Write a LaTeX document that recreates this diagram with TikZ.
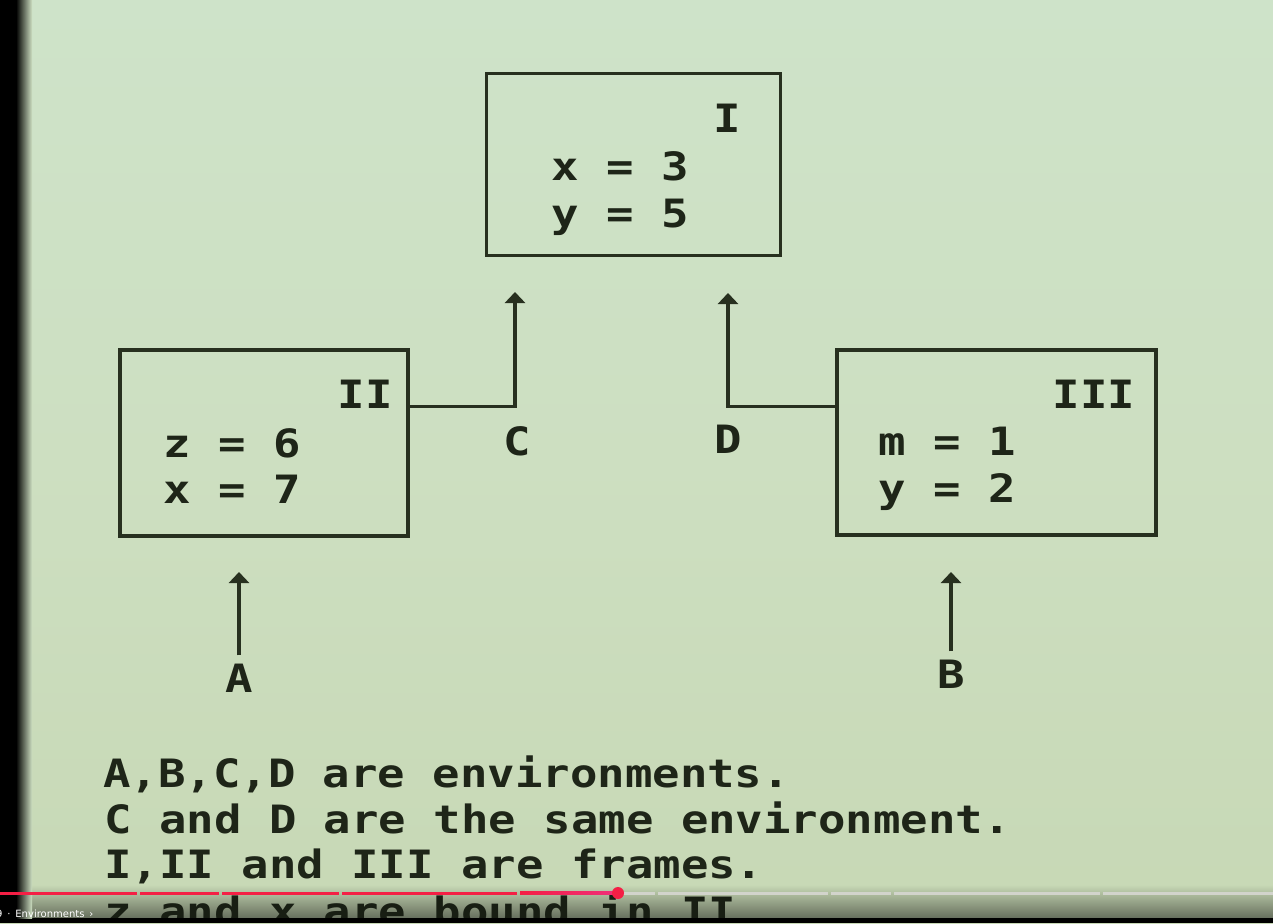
\documentclass[tikz,border=0pt]{standalone}
\usepackage{fontspec}
\usetikzlibrary{arrows.meta}
% bold typewriter face, widened to a 27.5pt cell
\newfontfamily\ttyface[FakeStretch=1.17]{DejaVu Sans Mono Bold}
\newfontfamily\uiface{DejaVu Sans}
\definecolor{papertop}{HTML}{CEE3C9}
\definecolor{papermid}{HTML}{CDDFC1}
\definecolor{paperbot}{HTML}{C7D8B5}
\definecolor{ink}{HTML}{27301F}
\definecolor{inktext}{HTML}{1E2518}
\definecolor{barred}{HTML}{F41F45}
\definecolor{barpink}{HTML}{F0307A}
\definecolor{bargray}{HTML}{D2D4CC}
\begin{document}
\begin{tikzpicture}[x=1pt,y=-1pt,
  frame/.style={draw=ink, line width=3.5pt, inner sep=0pt},
  tt/.style={font=\ttyface\fontsize{39}{47}\selectfont, text=inktext, inner sep=0pt},
  link/.style={draw=ink, line width=3.2pt, line join=miter,
               -{Triangle[width=20pt,length=11pt]}},
  seg/.style={line width=3pt}
]
\useasboundingbox (0,0) rectangle (1273,923);

% paper
\shade[top color=papertop, bottom color=paperbot, middle color=papermid]
  (0,0) rectangle (1273,923);
% darkening towards the lower edge
\shade[top color=paperbot, bottom color=paperbot!50!black] (0,885) rectangle (1273,919);

% frames
\node[frame, minimum width=294pt, minimum height=182pt] (fI)   at (633.5,164.5) {};
\node[frame, minimum width=288pt, minimum height=186pt] (fII)  at (264,443) {};
\node[frame, minimum width=319pt, minimum height=185pt] (fIII) at (996.5,442.5) {};

% frame names and bindings
\node[tt, anchor=base] (nI)   at (727,132)  {I};
\node[tt, anchor=base west] (bIx) at (551,180) {x = 3};
\node[tt, anchor=base west] (bIy) at (551,227) {y = 5};

\node[tt, anchor=base] (nII)  at (365,408)  {II};
\node[tt, anchor=base west] (bIIz) at (163,457) {z = 6};
\node[tt, anchor=base west] (bIIx) at (163,503) {x = 7};

\node[tt, anchor=base] (nIII) at (1094,408) {III};
\node[tt, anchor=base west] (bIIIm) at (878,455) {m = 1};
\node[tt, anchor=base west] (bIIIy) at (878,502) {y = 2};

% environment pointers
\coordinate (ctip) at (515,292);
\coordinate (dtip) at (728,293);
\coordinate (atip) at (239,572);
\coordinate (btip) at (951,572);

\node[tt, anchor=base] (lC) at (517,455) {C};
\node[tt, anchor=base] (lD) at (728,453) {D};
\node[tt, anchor=base] (lA) at (239,692) {A};
\node[tt, anchor=base] (lB) at (951,688) {B};

\draw[link] ([yshift=-58pt]fII.north east) -| (ctip);
\draw[link] ([yshift=-58pt]fIII.north west) -| (dtip);
\draw[link] ([yshift=8pt]lA.north) -- (atip);
\draw[link] ([yshift=8pt]lB.north) -- (btip);

% notes
\node[tt, anchor=base west] (t1) at (103,787) {A,B,C,D are environments.};
\node[tt, anchor=base west] (t2) at (104,833) {C and D are the same environment.};
\node[tt, anchor=base west] (t3) at (104,878) {I,II and III are frames.};
\begin{scope}
  \clip (0,0) rectangle (1273,918);
  \node[tt, anchor=base west, text=inktext!80!black] (t4) at (104,925) {z and x are bound in II.};
\end{scope}

% player frame: black edges
\fill[black] (0,918) rectangle (1273,923);
\fill[black] (0,0) rectangle (16,923);
\shade[left color=black, right color=papermid] (16,0) rectangle (32,918);

% progress bar
\draw[seg, barred] (0,893) -- (137,893);
\draw[seg, barred] (140,893) -- (219,893);
\draw[seg, barred] (222,893) -- (339,893);
\draw[seg, barred] (342,893) -- (517,893);
\shade[left color=barred, right color=barpink] (520,891.5) rectangle (618,894.5);
\draw[seg, bargray] (618,893) -- (655,893);
\draw[seg, bargray] (658,893) -- (828,893);
\draw[seg, bargray] (831,893) -- (891,893);
\draw[seg, bargray] (894,893) -- (1100,893);
\draw[seg, bargray] (1103,893) -- (1273,893);
\fill[barred] (618,893) circle (6pt);
\node[font=\uiface\fontsize{10}{12}\selectfont, text=white, anchor=base west, inner sep=0pt]
  (chap) at (-4,917) {9 \,·\, Environments \,›};
\end{tikzpicture}
\end{document}
